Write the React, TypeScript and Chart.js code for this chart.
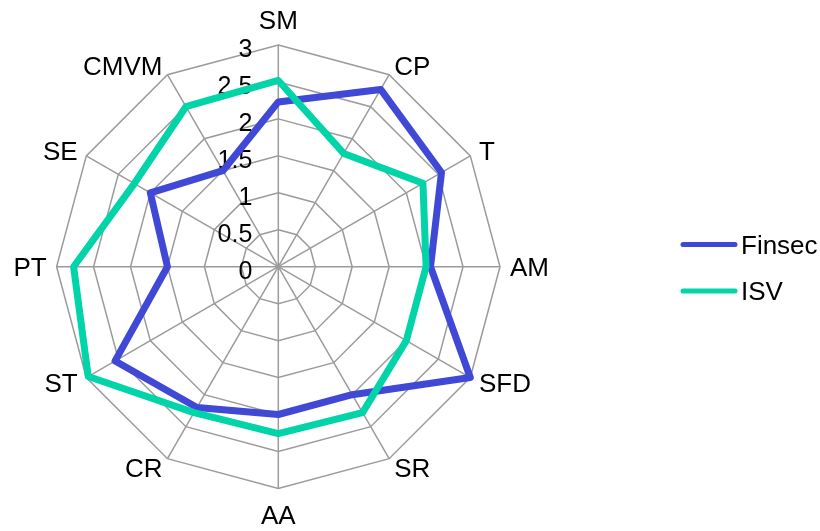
import React, { useEffect, useRef } from 'react';
import { Chart, registerables } from 'chart.js';

Chart.register(...registerables);

const categories = ['SM', 'CP', 'T', 'AM', 'SFD', 'SR', 'AA', 'CR', 'ST', 'PT', 'SE', 'CMVM'];
const finsecValues = [2.23, 2.77, 2.55, 2.06, 3.0, 2.0, 2.0, 2.2, 2.55, 1.5, 2.0, 1.5];
const isvValues = [2.52, 1.77, 2.26, 2.0, 2.0, 2.28, 2.26, 2.28, 2.97, 2.77, 2.25, 2.5];
const tickValues = [0, 0.5, 1, 1.5, 2, 2.5, 3];
const seriesNames = ['Finsec', 'ISV'];
const seriesColors = ['rgb(64,72,214)', 'rgb(0,212,168)'];

const FONT = '"Liberation Sans", Arial, sans-serif';

export default function App() {
  const ref = useRef<HTMLCanvasElement>(null);

  useEffect(() => {
    document.body.style.margin = '0';
    const canvas = ref.current;
    if (!canvas) return;

    const customPlugin = {
      id: 'customText',
      beforeDatasetsDraw(chart: any) {
        const s = chart.scales.r;
        const c = chart.ctx;
        c.save();
        c.fillStyle = '#000';
        c.font = `25px ${FONT}`;
        c.textAlign = 'right';
        c.textBaseline = 'middle';
        tickValues.forEach((v) => {
          const d = s.getDistanceFromCenterForValue(v);
          c.fillText(String(v), s.xCenter - 26, s.yCenter - d + 5);
        });
        c.font = `26px ${FONT}`;
        categories.forEach((lab, i) => {
          const p = s.getPointPosition(i, s.drawingArea + 10);
          const deg = Math.round((i * 360) / categories.length) % 360;
          let align: CanvasTextAlign = 'center';
          let dy = 2;
          if (deg === 0) dy = -13;
          else if (deg === 180) dy = 18;
          else if (deg < 180) align = 'left';
          else align = 'right';
          c.textAlign = align;
          c.fillText(lab, p.x, p.y + dy);
        });
        c.restore();
      },
      afterDraw(chart: any) {
        const c = chart.ctx;
        c.save();
        c.font = `26px ${FONT}`;
        c.textAlign = 'left';
        c.textBaseline = 'middle';
        seriesNames.forEach((name, i) => {
          const y = 244.5 + i * 46.5;
          c.strokeStyle = seriesColors[i];
          c.lineWidth = 5;
          c.lineCap = 'round';
          c.beginPath();
          c.moveTo(683, y);
          c.lineTo(735, y);
          c.stroke();
          c.fillStyle = '#000';
          c.fillText(name, 741, y + 2);
        });
        c.restore();
      },
    };

    const chart = new Chart(canvas, {
      type: 'radar',
      data: {
        labels: categories,
        datasets: [
          {
            label: seriesNames[0],
            data: finsecValues,
            borderColor: seriesColors[0],
            backgroundColor: 'transparent',
            borderWidth: 7,
            pointRadius: 0,
            fill: false,
            borderJoinStyle: 'round',
            order: 1,
            clip: false,
          } as any,
          {
            label: seriesNames[1],
            data: isvValues,
            borderColor: seriesColors[1],
            backgroundColor: 'transparent',
            borderWidth: 7,
            pointRadius: 0,
            fill: false,
            borderJoinStyle: 'round',
            order: 0,
            clip: false,
          } as any,
        ],
      },
      options: {
        animation: false,
        responsive: false,
        events: [],
        layout: { padding: 0 },
        plugins: {
          legend: { display: false },
          tooltip: { enabled: false },
        },
        elements: { line: { tension: 0 } },
        scales: {
          r: {
            min: 0,
            max: 3,
            beginAtZero: true,
            ticks: { stepSize: 0.5, display: false },
            grid: { color: '#9b9b9b', lineWidth: 1.5 },
            angleLines: { color: '#9b9b9b', lineWidth: 1.5 },
            pointLabels: { display: false },
            afterFit: (scale: any) => {
              scale.xCenter = 278.3;
              scale.yCenter = 266.7;
              scale.drawingArea = 221.7;
            },
          } as any,
        },
      },
      plugins: [customPlugin],
    });

    return () => chart.destroy();
  }, []);

  return (
    <div style={{ width: 820, height: 531, background: '#fff' }}>
      <canvas ref={ref} width={820} height={531} style={{ display: 'block' }} />
    </div>
  );
}
